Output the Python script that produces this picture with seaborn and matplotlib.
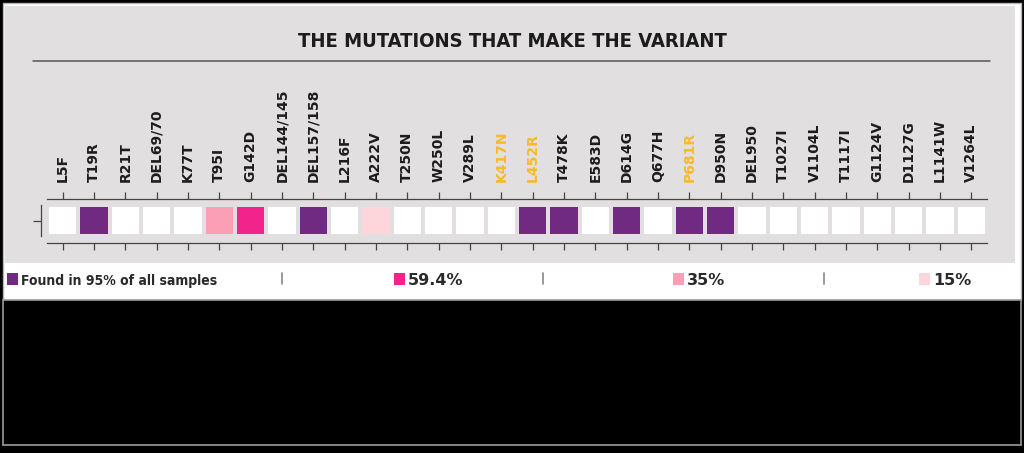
import matplotlib.pyplot as plt
import matplotlib.colors as mcolors
from matplotlib.patches import Rectangle
from matplotlib.lines import Line2D
import seaborn as sns
import pandas as pd

# Mutations along the spike protein and the share of samples carrying them
mutations = [
    "L5F", "T19R", "R21T", "DEL69/70", "K77T", "T95I", "G142D", "DEL144/145",
    "DEL157/158", "L216F", "A222V", "T250N", "W250L", "V289L", "K417N", "L452R",
    "T478K", "E583D", "D614G", "Q677H", "P681R", "D950N", "DEL950", "T1027I",
    "V1104L", "T1117I", "G1124V", "D1127G", "L1141W", "V1264L",
]
frequency = [
    0, 95, 0, 0, 0, 35, 59.4, 0,
    95, 0, 15, 0, 0, 0, 0, 95,
    95, 0, 95, 0, 95, 95, 0, 0,
    0, 0, 0, 0, 0, 0,
]
highlighted = ["K417N", "L452R", "P681R"]

legend_labels = ["Found in 95% of all samples", "59.4%", "35%", "15%"]
legend_values = [95, 59.4, 35, 15]

W, H = 1024, 453
PANEL = "#e1dfe0"
INK = "#1c1c1c"
ORANGE = "#f9b928"

cmap = mcolors.ListedColormap(["#ffffff", "#fdd6dc", "#fb9fb6", "#f3238c", "#702a82"])
norm = mcolors.BoundaryNorm([0, 10, 25, 45, 75, 100], cmap.N)

sns.set_style("white")
plt.rcParams["font.family"] = ["DejaVu Sans"]


def px_rect(x0, y0, x1, y1, **kw):
    # rectangle given in image pixels (origin top-left)
    return Rectangle((x0 / W, 1 - y1 / H), (x1 - x0) / W, (y1 - y0) / H,
                     transform=fig.transFigure, **kw)


fig = plt.figure(figsize=(W / 100, H / 100), dpi=100, facecolor="black")

# card background
fig.add_artist(px_rect(3, 3, 1021, 300, facecolor="white", edgecolor="#b5b5b5", lw=1.0, zorder=0))
fig.add_artist(px_rect(5, 6, 1015, 263, facecolor=PANEL, edgecolor="none", zorder=0))
fig.add_artist(px_rect(3, 300, 1021, 445, facecolor="black", edgecolor="#9c9c9c", lw=1.2, zorder=0))

# title and rule
fig.text(512 / W, 1 - 47 / H, "THE MUTATIONS THAT MAKE THE VARIANT",
         ha="center", va="baseline", fontsize=14.5, fontweight="bold", color=INK,
         fontstretch="condensed", family=["DejaVu Sans"])
fig.add_artist(Line2D([33 / W, 990 / W], [1 - 60.5 / H] * 2, color="#555555", lw=1.1,
                      transform=fig.transFigure))

# heatmap strip
ax = fig.add_axes([47 / W, 1 - 236 / H, 940 / W, 31 / H])
df = pd.DataFrame([frequency], columns=mutations)
sns.heatmap(df, cmap=cmap, norm=norm, cbar=False, linewidths=1.6, linecolor=PANEL,
            xticklabels=True, yticklabels=[""], ax=ax)
ax.patch.set_alpha(0)

for side, off in [("top", 4.3), ("bottom", 5.0), ("left", 4.3)]:
    ax.spines[side].set_visible(True)
    ax.spines[side].set_position(("outward", off))
    ax.spines[side].set_color("#444444")
    ax.spines[side].set_linewidth(0.9)
ax.spines["right"].set_visible(False)

ax.tick_params(axis="x", top=True, bottom=True, labeltop=True, labelbottom=False,
               direction="out", length=5, width=0.9, color="#444444", pad=7,
               labelrotation=90, labelsize=10)
ax.tick_params(axis="y", left=True, direction="out", length=5.8, width=0.9, color="#444444")

for tick, name in zip(ax.xaxis.get_major_ticks(), mutations):
    tick.label2.set_fontweight("bold")
    tick.label2.set_color(ORANGE if name in highlighted else INK)

# legend row
swatch_x = [7, 394, 673, 919]
sep_x = [282, 543, 824]
for i, (label, val) in enumerate(zip(legend_labels, legend_values)):
    x0 = swatch_x[i]
    fig.add_artist(px_rect(x0, 273, x0 + 11, 285, facecolor=cmap(norm(val)), edgecolor="none"))
    stretch, size = ("condensed", 10) if i == 0 else ("normal", 11.5)
    fig.text((x0 + 14) / W, 1 - 285 / H, label, ha="left", va="baseline",
             fontsize=size, fontweight="bold", color="#2a2a2a",
             fontstretch=stretch, family=["DejaVu Sans"])
for x in sep_x:
    fig.add_artist(Line2D([x / W] * 2, [1 - 273 / H, 1 - 284 / H], color="#888888", lw=1.2,
                          transform=fig.transFigure))

fig.savefig("out.png", dpi=100, facecolor=fig.get_facecolor())
